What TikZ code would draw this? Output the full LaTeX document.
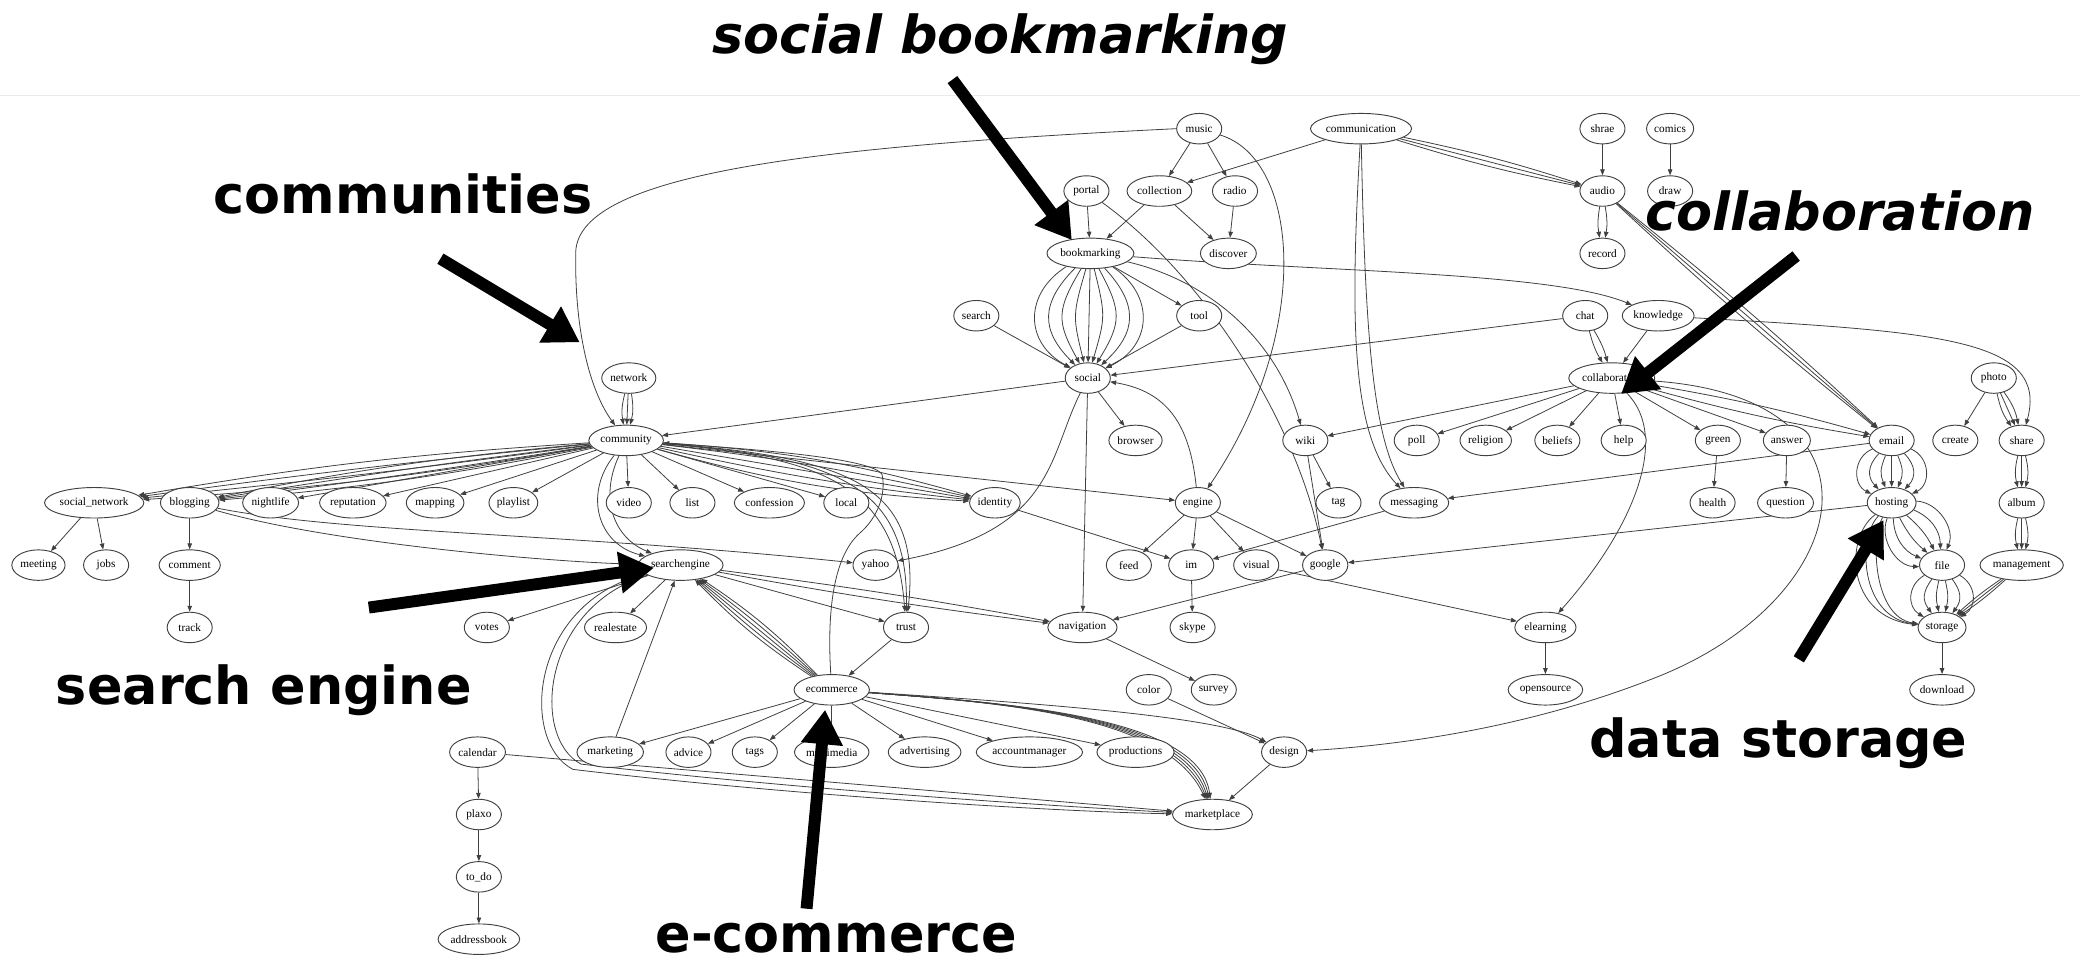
\documentclass[tikz,border=0pt]{standalone}
\usepackage{fontspec}
\setmainfont{Liberation Serif}
\newfontfamily\labfont{DejaVu Sans}[BoldFont={DejaVu Sans Bold},BoldItalicFont={DejaVu Sans Bold Oblique}]
\usetikzlibrary{shapes.geometric,arrows.meta,backgrounds}
\tikzset{
 n/.style={ellipse, draw=black!75, fill=white, line width=0.7pt, font=\fontsize{8.5}{9}\selectfont, inner xsep=0.5pt, inner ysep=2pt, minimum height=23pt, minimum width=34pt},
 e/.style={draw=black!75, line width=0.6pt, -{Triangle[length=4.5pt,width=3.4pt]}},
 big/.style={line width=9pt, -{Triangle[length=26pt,width=30pt]}},
 lbl/.style={font=\labfont\bfseries\fontsize{39.5}{40}\selectfont, anchor=base west, inner sep=0pt},
 lbli/.style={font=\labfont\bfseries\itshape\fontsize{39.5}{40}\selectfont, anchor=base west, inner sep=0pt},
}
\begin{document}
\begin{tikzpicture}[x=1pt,y=-1pt]
\useasboundingbox (0,0) rectangle (1568,729);

% nodes
\node[n] (music) at (904,97) {music};
\node[n] (communication) at (1026,97) {communication};
\node[n] (shrae) at (1208,97) {shrae};
\node[n] (comics) at (1259,97) {comics};
\node[n] (portal) at (819,144) {portal};
\node[n] (collection) at (874,144) {collection};
\node[n] (radio) at (931,144) {radio};
\node[n] (audio) at (1208,144) {audio};
\node[n] (drawn) at (1259,144) {draw};
\node[n] (bookmarking) at (822,191) {bookmarking};
\node[n] (discover) at (926,191) {discover};
\node[n] (record) at (1208,191) {record};
\node[n] (search) at (736,238) {search};
\node[n] (tool) at (904,238) {tool};
\node[n] (chat) at (1195,238) {chat};
\node[n] (knowledge) at (1250,238) {knowledge};
\node[n] (network) at (474,285) {network};
\node[n] (social) at (820,285) {social};
\node[n] (collaboration) at (1215,285) {collaboration};
\node[n] (photo) at (1503,285) {photo};
\node[n] (community) at (472,332) {community};
\node[n] (browser) at (856,332) {browser};
\node[n] (wiki) at (984,332) {wiki};
\node[n] (poll) at (1068,332) {poll};
\node[n] (religion) at (1120,332) {religion};
\node[n] (beliefs) at (1174,332) {beliefs};
\node[n] (help) at (1224,332) {help};
\node[n] (green) at (1295,332) {green};
\node[n] (answer) at (1347,332) {answer};
\node[n] (email) at (1426,332) {email};
\node[n] (create) at (1474,332) {create};
\node[n] (share) at (1524,332) {share};
\node[n] (socialnetwork) at (71,379) {social\_network};
\node[n] (blogging) at (143,379) {blogging};
\node[n] (nightlife) at (204,379) {nightlife};
\node[n] (reputation) at (266,379) {reputation};
\node[n] (mapping) at (328,379) {mapping};
\node[n] (playlist) at (387,379) {playlist};
\node[n] (video) at (474,379) {video};
\node[n] (list) at (522,379) {list};
\node[n] (confession) at (580,379) {confession};
\node[n] (local) at (638,379) {local};
\node[n] (identity) at (750,379) {identity};
\node[n] (engine) at (903,379) {engine};
\node[n] (tag) at (1009,379) {tag};
\node[n] (messaging) at (1066,379) {messaging};
\node[n] (health) at (1291,379) {health};
\node[n] (question) at (1346,379) {question};
\node[n] (hosting) at (1426,379) {hosting};
\node[n] (album) at (1524,379) {album};
\node[n] (meeting) at (29,426) {meeting};
\node[n] (jobs) at (80,426) {jobs};
\node[n] (comment) at (143,426) {comment};
\node[n] (searchengine) at (513,426) {searchengine};
\node[n] (yahoo) at (660,426) {yahoo};
\node[n] (feed) at (851,426) {feed};
\node[n] (im) at (898,426) {im};
\node[n] (visual) at (947,426) {visual};
\node[n] (google) at (999,426) {google};
\node[n] (file) at (1464,426) {file};
\node[n] (management) at (1524,426) {management};
\node[n] (track) at (143,473) {track};
\node[n] (votes) at (367,473) {votes};
\node[n] (realestate) at (464,473) {realestate};
\node[n] (trust) at (683,473) {trust};
\node[n] (navigation) at (816,473) {navigation};
\node[n] (skype) at (899,473) {skype};
\node[n] (elearning) at (1165,473) {elearning};
\node[n] (storage) at (1464,473) {storage};
\node[n] (ecommerce) at (627,520) {ecommerce};
\node[n] (color) at (866,520) {color};
\node[n] (survey) at (915,520) {survey};
\node[n] (opensource) at (1165,520) {opensource};
\node[n] (download) at (1464,520) {download};
\node[n] (calendar) at (360,567) {calendar};
\node[n] (marketing) at (460,567) {marketing};
\node[n] (advice) at (519,567) {advice};
\node[n] (tags) at (569,567) {tags};
\node[n] (multimedia) at (627,567) {multimedia};
\node[n] (advertising) at (697,567) {advertising};
\node[n] (accountmanager) at (776,567) {accountmanager};
\node[n] (productions) at (856,567) {productions};
\node[n] (design) at (968,567) {design};
\node[n] (plaxo) at (361,614) {plaxo};
\node[n] (marketplace) at (914,614) {marketplace};
\node[n] (todo) at (361,661) {to\_do};
\node[n] (addressbook) at (361,708) {addressbook};

% edges, beneath the nodes
\begin{scope}[on background layer]
\fill[white] (0,0) rectangle (1568,729);
\draw[black!8, line width=1pt] (0,72) -- (1568,72);
\draw[e] (music.west) .. controls (620,110) and (436,130) .. (434,190) .. controls (433,250) and (445,295) .. (community);
\draw[e] (music) -- (collection);
\draw[e] (music) -- (radio);
\draw[e] (music) .. controls (980,120) and (990,250) .. (engine);
\draw[e] (communication) -- (collection);
\draw[e] (communication) .. controls (1017,250) and (1020,330) .. (messaging);
\draw[e] (communication) .. controls (1029,250) and (1035,330) .. (messaging);
\foreach \b in {-3,0,3} \draw[e] (communication) to[bend left=\b] (audio);
\foreach \b in {-2,0,2} \draw[e] (audio) to[bend left=\b] (email);
\draw[e] (shrae) -- (audio);
\draw[e] (comics) -- (drawn);
\foreach \b in {-10,10} \draw[e] (audio) to[bend left=\b] (record);
\draw[e] (portal) -- (bookmarking);
\draw[e] (portal) .. controls (910,210) and (978,320) .. (google);
\draw[e] (collection) -- (bookmarking);
\draw[e] (collection) -- (discover);
\draw[e] (radio) -- (discover);
\foreach \b in {-60,-45,-30,-15,0,15,30,45,60} \draw[e] (bookmarking) to[bend left=\b, looseness=1.3] (social);
\draw[e] (bookmarking) -- (tool);
\draw[e] (bookmarking) .. controls (1000,205) and (1170,205) .. (knowledge);
\draw[e] (bookmarking) .. controls (905,210) and (960,250) .. (wiki);
\draw[e] (tool) -- (social);
\draw[e] (search) -- (social);
\draw[e] (chat) -- (social);
\foreach \b in {-8,8} \draw[e] (chat) to[bend left=\b] (collaboration);
\draw[e] (knowledge) -- (collaboration);
\draw[e] (knowledge) .. controls (1460,250) and (1545,255) .. (share);
\draw[e] (social) -- (community);
\draw[e] (social) -- (browser);
\draw[e] (social) -- (navigation);
\draw[e] (social) .. controls (790,345) and (795,400) .. (yahoo);
\draw[e] (engine) .. controls (897,320) and (880,295) .. (social);
\foreach \b in {-12,0,12} \draw[e] (network) to[bend left=\b] (community);
\foreach \b in {-3,-1,1,3} \draw[e] (community) to[bend left=\b] (socialnetwork);
\foreach \b in {-3,-1,1,3} \draw[e] (community) to[bend left=\b] (blogging);
\foreach \t in {nightlife,reputation,mapping,playlist,video,list,confession,local,engine} \draw[e] (community) -- (\t);
\foreach \b in {-6,-3,0,3,6} \draw[e] (community) to[bend left=\b] (identity);
\foreach \d in {0,10,20} \draw[e] (community) .. controls (620+\d,345) and (675+\d,365) .. (trust);
\draw[e] (community) .. controls (440,372) and (450,410) .. (searchengine);
\draw[e] (community) .. controls (452,375) and (462,405) .. (searchengine);
\draw[e] (ecommerce) .. controls (623,455) and (630,418) .. (648,402) .. controls (662,390) and (668,372) .. (665,358) .. controls (660,345) and (560,338) .. (community);
\draw[e] (blogging) .. controls (250,410) and (420,424) .. (searchengine);
\draw[e] (blogging) .. controls (260,402) and (430,402) .. (yahoo);
\draw[e] (blogging) -- (comment);
\draw[e] (comment) -- (track);
\draw[e] (socialnetwork) -- (meeting);
\draw[e] (socialnetwork) -- (jobs);
\draw[e] (searchengine) -- (votes);
\draw[e] (searchengine) -- (realestate);
\draw[e] (searchengine) -- (trust);
\foreach \b in {-1.5,1.5} \draw[e] (searchengine) to[bend left=\b] (navigation);
\draw[e] (searchengine) .. controls (398,455) and (392,560) .. (432,580) .. controls (600,600) and (800,612) .. (marketplace);
\draw[e] (searchengine) .. controls (408,458) and (400,556) .. (438,576) .. controls (610,596) and (800,608) .. (marketplace);
\foreach \b in {-6,-3,0,3,6} \draw[e] (ecommerce) to[bend left=\b] (searchengine);
\draw[e] (marketing) -- (searchengine);
\draw[e] (trust) -- (ecommerce);
\foreach \t in {marketing,advice,tags,multimedia,advertising,accountmanager,productions} \draw[e] (ecommerce) -- (\t);
\foreach \d in {0,6,12,18,24} \draw[e] (ecommerce) .. controls (760,530) and (880+\d,540) .. (marketplace);
\draw[e] (ecommerce) .. controls (780,530) and (920,540) .. (design);
\draw[e] (calendar) -- (plaxo);
\draw[e] (plaxo) -- (todo);
\draw[e] (todo) -- (addressbook);
\draw[e] (calendar) -- (marketplace);
\draw[e] (identity) -- (im);
\foreach \t in {feed,im,visual,google} \draw[e] (engine) -- (\t);
\draw[e] (im) -- (skype);
\draw[e] (messaging) -- (im);
\draw[e] (google) -- (navigation);
\draw[e] (visual) -- (elearning);
\draw[e] (navigation) -- (survey);
\draw[e] (color) -- (design);
\draw[e] (design) -- (marketplace);
\draw[e] (wiki) -- (tag);
\draw[e] (wiki) -- (google);
\foreach \t in {wiki,poll,religion,beliefs,help,green,answer} \draw[e] (collaboration) -- (\t);
\foreach \b in {-3,3} \draw[e] (collaboration) to[bend left=\b] (email);
\draw[e] (collaboration) .. controls (1260,330) and (1230,400) .. (elearning);
\draw[e] (collaboration) .. controls (1430,300) and (1400,450) .. (1250,510) .. controls (1150,550) and (1050,562) .. (design);
\draw[e] (green) -- (health);
\draw[e] (answer) -- (question);
\draw[e] (email) -- (messaging);
\foreach \b in {-66,-44,-22,0,22,44,66} \draw[e] (email) to[bend left=\b, looseness=1.2] (hosting);
\draw[e] (hosting) -- (google);
\foreach \b in {-55,-33,-11,11,33,55} \draw[e] (hosting) to[bend left=\b] (file);
\foreach \d in {0,10,20} \draw[e] (hosting) .. controls (1390+\d,405) and (1392+\d,465) .. (storage);
\foreach \b in {-60,-36,-12,12,36,60} \draw[e] (file) to[bend left=\b, looseness=1.2] (storage);
\foreach \b in {-4,0,4} \draw[e] (management) to[bend left=\b] (storage);
\draw[e] (photo) -- (create);
\foreach \b in {-12,0,12} \draw[e] (photo) to[bend left=\b] (share);
\foreach \b in {-14,0,14} \draw[e] (share) to[bend left=\b] (album);
\foreach \b in {-14,0,14} \draw[e] (album) to[bend left=\b] (management);
\draw[e] (storage) -- (download);
\draw[e] (elearning) -- (opensource);
\end{scope}

% annotations
\node[lbli] (lsb) at (537,40) {social bookmarking};
\node[lbl] (lcom) at (161,161) {communities};
\node[lbli] (lcol) at (1240,174) {collaboration};
\node[lbl] (lse) at (42,531) {search engine};
\node[lbl] (lds) at (1198,571) {data storage};
\node[lbl] (lec) at (494,718) {e-commerce};

\coordinate (a1) at (718,60);   \coordinate (b1) at (808,181);
\coordinate (a2) at (332,195);  \coordinate (b2) at (437,258);
\coordinate (a3) at (1354,193); \coordinate (b3) at (1222,297);
\coordinate (a4) at (278,458);  \coordinate (b4) at (493,428);
\coordinate (a5) at (608,685);  \coordinate (b5) at (622,535);
\coordinate (a6) at (1356,497); \coordinate (b6) at (1420,392);
\foreach \i in {1,...,6} \draw[big] (a\i) -- (b\i);
\end{tikzpicture}
\end{document}
